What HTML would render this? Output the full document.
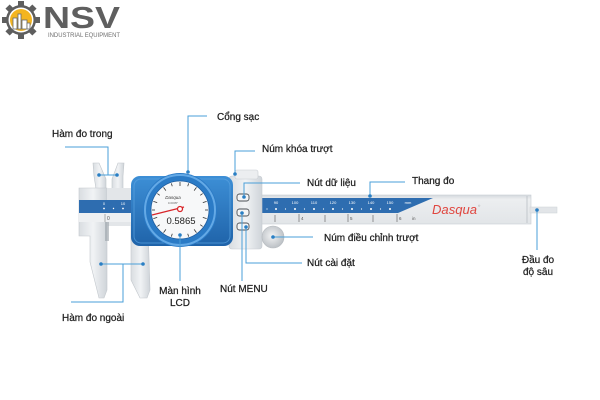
<!DOCTYPE html>
<html><head><meta charset="utf-8">
<style>
html,body{margin:0;padding:0;background:#fff;}
svg{display:block;}
text{font-family:"Liberation Sans","DejaVu Sans",sans-serif;}
</style></head>
<body>
<svg width="600" height="400" viewBox="0 0 600 400" xmlns="http://www.w3.org/2000/svg">
<defs>
<linearGradient id="hous" x1="0" y1="0" x2="0" y2="1">
<stop offset="0" stop-color="#3d8fd6"/><stop offset="1" stop-color="#1f63a9"/>
</linearGradient>
<linearGradient id="metal" x1="0" y1="0" x2="1" y2="0">
<stop offset="0" stop-color="#d9dde1"/><stop offset="0.5" stop-color="#f1f3f5"/><stop offset="1" stop-color="#cfd4d9"/>
</linearGradient>
<linearGradient id="beam" x1="0" y1="0" x2="0" y2="1">
<stop offset="0" stop-color="#d4d9de"/><stop offset="0.15" stop-color="#eceef0"/><stop offset="1" stop-color="#e2e5e8"/>
</linearGradient>
<radialGradient id="wheel" cx="0.45" cy="0.45" r="0.6">
<stop offset="0" stop-color="#f2f3f4"/><stop offset="1" stop-color="#b8bdc2"/>
</radialGradient>
</defs>

<!-- LOGO -->
<g transform="translate(21,20)">
<g fill="#5e5e5e">
<circle r="15"/>
<rect x="-3" y="-19" width="6" height="6"/>
<rect x="-3" y="13" width="6" height="6"/>
<rect x="-19" y="-3" width="6" height="6"/>
<rect x="13" y="-3" width="6" height="6"/>
<rect x="-3" y="-19" width="6" height="6" transform="rotate(45)"/>
<rect x="-3" y="-19" width="6" height="6" transform="rotate(135)"/>
<rect x="-3" y="-19" width="6" height="6" transform="rotate(225)"/>
<rect x="-3" y="-19" width="6" height="6" transform="rotate(315)"/>
</g>
<circle r="12.5" fill="#fff"/>
<circle r="11" fill="#f4b520"/>
<g fill="#fff" stroke="#6a6a6a" stroke-width="0.8">
<rect x="-8" y="-2" width="4" height="11"/>
<rect x="-3" y="-6" width="3" height="15"/>
<rect x="1" y="0" width="5" height="9"/>
<rect x="6" y="3" width="3" height="6"/>
</g>
</g>
<text x="43" y="28" font-size="31" font-weight="bold" fill="#5f5f5f" textLength="77" lengthAdjust="spacingAndGlyphs">NSV</text>
<text x="48" y="37" font-size="6" fill="#6f6f6f" textLength="72" lengthAdjust="spacingAndGlyphs">INDUSTRIAL EQUIPMENT</text>

<!-- CALIPER -->
<polygon points="93,163 99,163 106,179 106,189 96,189 94,176" fill="url(#metal)" stroke="#bfc5ca" stroke-width="0.6"/>
<polygon points="118,163 124,163 123,176 123,189 112,189 112,179" fill="url(#metal)" stroke="#bfc5ca" stroke-width="0.6"/>
<polygon points="79,188 107,188 107,290 104,298 99,298 90,262 90,236 79,236" fill="url(#metal)" stroke="#c3c8cd" stroke-width="0.6"/>
<rect x="107" y="188" width="28" height="38" fill="#e3e6e9"/>
<polygon points="131,226 148,226 150,290 147,298 140,298 131,280" fill="url(#metal)" stroke="#c3c8cd" stroke-width="0.6"/>
<rect x="105" y="213" width="4" height="28" fill="#9aa1a8" opacity="0.6"/>
<rect x="79" y="200" width="56" height="13" fill="#2e6db0"/>
<rect x="79" y="213" width="56" height="9" fill="#eef0f2"/>
<text x="104" y="205" font-size="4" fill="#fff" text-anchor="middle">0</text>
<text x="123" y="205" font-size="4" fill="#fff" text-anchor="middle">10</text>
<g fill="#fff"><circle cx="104" cy="208.5" r="0.9"/><circle cx="113.5" cy="208.5" r="0.7"/><circle cx="123" cy="208.5" r="0.9"/></g>
<text x="107" y="220" font-size="5" fill="#555">0</text>
<line x1="105" y1="214" x2="105" y2="222" stroke="#666" stroke-width="0.5"/>

<!-- right beam -->
<rect x="257" y="195" width="274" height="29" fill="url(#beam)" stroke="#c8cdd2" stroke-width="0.6"/>
<polygon points="258,198 433,198 398,213 258,213" fill="#2e6db0"/>
<line x1="527" y1="196" x2="527" y2="223" stroke="#b9bfc5" stroke-width="0.8"/>
<rect x="530" y="207" width="27" height="6" fill="#e2e5e8" stroke="#cdd2d6" stroke-width="0.5"/>
<g font-size="4" fill="#fff" text-anchor="middle">
<text x="276" y="204">90</text><text x="295" y="204">100</text><text x="314" y="204">110</text><text x="333" y="204">120</text><text x="352" y="204">130</text><text x="371" y="204">140</text><text x="390" y="204">150</text><text x="408" y="204">mm</text>
</g>
<g fill="#fff">
<circle cx="267" cy="209" r="0.6"/><circle cx="276" cy="209" r="1"/><circle cx="285.5" cy="209" r="0.6"/><circle cx="295" cy="209" r="1"/><circle cx="304.5" cy="209" r="0.6"/><circle cx="314" cy="209" r="1"/><circle cx="323.5" cy="209" r="0.6"/><circle cx="333" cy="209" r="1"/><circle cx="342.5" cy="209" r="0.6"/><circle cx="352" cy="209" r="1"/><circle cx="361.5" cy="209" r="0.6"/><circle cx="371" cy="209" r="1"/><circle cx="380.5" cy="209" r="0.6"/><circle cx="390" cy="209" r="1"/>
</g>
<g stroke="#555" stroke-width="0.6">
<line x1="275" y1="215" x2="275" y2="222"/><line x1="299" y1="214" x2="299" y2="222"/><line x1="325" y1="215" x2="325" y2="222"/><line x1="348" y1="214" x2="348" y2="222"/><line x1="373" y1="215" x2="373" y2="222"/><line x1="397" y1="214" x2="397" y2="222"/>
</g>
<g font-size="4.5" fill="#555"><text x="301" y="220">4</text><text x="350" y="220">5</text><text x="399" y="220">6</text><text x="412" y="220">in</text></g>
<text x="432" y="214" font-size="13" font-style="italic" fill="#e0463f" textLength="45" lengthAdjust="spacingAndGlyphs">Dasqua</text>
<text x="478" y="207" font-size="3" fill="#999">®</text>

<!-- slider white body -->
<rect x="229" y="176" width="33" height="73" rx="3" fill="url(#metal)" stroke="#c7ccd1" stroke-width="0.6"/>
<rect x="235" y="170" width="23" height="9" rx="2" fill="#eceef0" stroke="#c7ccd1" stroke-width="0.6"/>
<g fill="#f4f5f6" stroke="#4a4f55" stroke-width="0.9">
<rect x="237" y="194" width="12" height="7" rx="2.5"/>
<rect x="237" y="209" width="12" height="7" rx="2.5"/>
<rect x="237" y="223" width="12" height="7" rx="2.5"/>
</g>

<circle cx="273" cy="237" r="11" fill="url(#wheel)" stroke="#b3b8bd" stroke-width="0.6"/>

<!-- dial housing -->
<rect x="131" y="176" width="102" height="70" rx="9" fill="url(#hous)"/>
<rect x="134" y="179" width="96" height="64" rx="7" fill="none" stroke="#5aa2e0" stroke-width="1" opacity="0.7"/>
<circle cx="180" cy="210" r="37" fill="#2b7bc6"/>
<circle cx="180" cy="210" r="35" fill="none" stroke="#63a9e6" stroke-width="2"/>
<circle cx="180" cy="210" r="29" fill="#f7f8f9" stroke="#1d5c9f" stroke-width="0.8"/>
<g stroke="#333" stroke-width="0.8" transform="translate(180,210)">
<line x1="0" y1="-28" x2="0" y2="-24" transform="rotate(0)"/>
<line x1="0" y1="-28" x2="0" y2="-25" transform="rotate(18)"/>
<line x1="0" y1="-28" x2="0" y2="-24" transform="rotate(36)"/>
<line x1="0" y1="-28" x2="0" y2="-25" transform="rotate(54)"/>
<line x1="0" y1="-28" x2="0" y2="-24" transform="rotate(72)"/>
<line x1="0" y1="-28" x2="0" y2="-25" transform="rotate(90)"/>
<line x1="0" y1="-28" x2="0" y2="-24" transform="rotate(108)"/>
<line x1="0" y1="-28" x2="0" y2="-25" transform="rotate(126)"/>
<line x1="0" y1="-28" x2="0" y2="-24" transform="rotate(144)"/>
<line x1="0" y1="-28" x2="0" y2="-25" transform="rotate(162)"/>
<line x1="0" y1="-28" x2="0" y2="-24" transform="rotate(180)"/>
<line x1="0" y1="-28" x2="0" y2="-25" transform="rotate(198)"/>
<line x1="0" y1="-28" x2="0" y2="-24" transform="rotate(216)"/>
<line x1="0" y1="-28" x2="0" y2="-25" transform="rotate(234)"/>
<line x1="0" y1="-28" x2="0" y2="-24" transform="rotate(252)"/>
<line x1="0" y1="-28" x2="0" y2="-25" transform="rotate(270)"/>
<line x1="0" y1="-28" x2="0" y2="-24" transform="rotate(288)"/>
<line x1="0" y1="-28" x2="0" y2="-25" transform="rotate(306)"/>
<line x1="0" y1="-28" x2="0" y2="-24" transform="rotate(324)"/>
<line x1="0" y1="-28" x2="0" y2="-25" transform="rotate(342)"/>
</g>
<text x="173" y="199" font-size="4.5" font-style="italic" fill="#333" text-anchor="middle">Dasqua</text>
<text x="173" y="204" font-size="3" fill="#666" text-anchor="middle">0.0005"</text>
<line x1="152" y1="215" x2="184" y2="207" stroke="#d8262a" stroke-width="1.2"/>
<circle cx="180" cy="209" r="2.5" fill="#fff" stroke="#d8262a" stroke-width="1.3"/>
<text x="181" y="224" font-size="9.5" fill="#222" text-anchor="middle">0.5865</text>

<!-- CONNECTORS -->
<g fill="none" stroke="#4a9fd8" stroke-width="1">
<polyline points="65,147 108,147 108,175"/>
<line x1="99" y1="175" x2="117" y2="175"/>
<polyline points="207,116 188,116 188,172"/>
<polyline points="255,151 235,151 235,174"/>
<polyline points="300,183 244,183 244,197"/>
<polyline points="405,182 370,182 370,196"/>
<line x1="273" y1="237" x2="313" y2="237"/>
<polyline points="302,263 246,263 246,227"/>
<line x1="242" y1="213" x2="242" y2="281"/>
<line x1="180" y1="235" x2="180" y2="281"/>
<polyline points="71,302 123,302 123,264"/>
<line x1="101" y1="264" x2="143" y2="264"/>
<line x1="537" y1="210" x2="537" y2="250"/>
</g>
<g fill="#2a7fc4">
<circle cx="99" cy="175" r="1.8"/><circle cx="117" cy="175" r="1.8"/>
<circle cx="188" cy="172" r="1.8"/>
<circle cx="235" cy="174" r="1.8"/>
<circle cx="244" cy="197" r="1.8"/>
<circle cx="370" cy="196" r="1.8"/>
<circle cx="273" cy="237" r="1.8"/>
<circle cx="246" cy="227" r="1.8"/>
<circle cx="242" cy="213" r="1.8"/>
<circle cx="180" cy="235" r="1.8"/>
<circle cx="101" cy="264" r="1.8"/><circle cx="143" cy="264" r="1.8"/>
<circle cx="537" cy="210" r="1.8"/>
</g>

<!-- LABELS -->
<g font-size="10" fill="#1e1e1e" stroke="#1e1e1e" stroke-width="0.25">
<text x="52" y="137">Hàm đo trong</text>
<text x="217" y="120">Cổng sạc</text>
<text x="262" y="152">Núm khóa trượt</text>
<text x="307" y="186">Nút dữ liệu</text>
<text x="412" y="184">Thang đo</text>
<text x="324" y="241">Núm điều chỉnh trượt</text>
<text x="307" y="266">Nút cài đặt</text>
<text x="220" y="292">Nút MENU</text>
<text x="180" y="294" text-anchor="middle">Màn hình</text>
<text x="180" y="306" text-anchor="middle">LCD</text>
<text x="62" y="321">Hàm đo ngoài</text>
<text x="538" y="263" text-anchor="middle">Đầu đo</text>
<text x="538" y="275" text-anchor="middle">độ sâu</text>
</g>
</svg>
</body></html>
